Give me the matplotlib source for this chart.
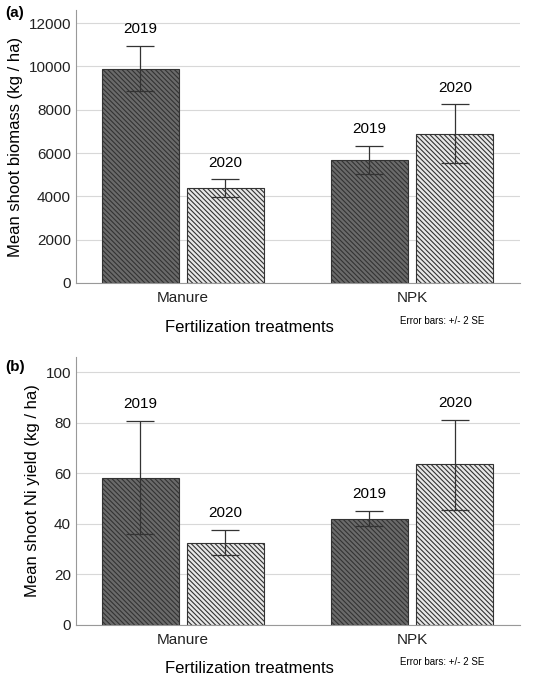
import numpy as np
import matplotlib.pyplot as plt

plt.rcParams['font.family'] = ['Liberation Sans', 'DejaVu Sans']
plt.rcParams['hatch.linewidth'] = 0.8

treatments = ['Manure', 'NPK']
years = ['2019', '2020']

biomass = {'2019': [9900, 5680], '2020': [4380, 6900]}
biomass_lo = {'2019': [8850, 5020], '2020': [3980, 5550]}
biomass_hi = {'2019': [10950, 6320], '2020': [4780, 8250]}

ni_yield = {'2019': [58, 42], '2020': [32.5, 63.5]}
ni_lo = {'2019': [36, 39], '2020': [27.5, 45.5]}
ni_hi = {'2019': [80.5, 45], '2020': [37.5, 81]}

fig = plt.figure(figsize=(5.49, 6.8), dpi=100)
ax_a = fig.add_axes([0.138, 0.584, 0.809, 0.401])
ax_b = fig.add_axes([0.138, 0.081, 0.809, 0.394])

styles = {'2019': dict(facecolor='#6a6a6a', hatch='\\\\\\\\\\\\\\'),
          '2020': dict(facecolor='#e8e8e8', hatch='\\\\\\\\\\\\\\')}


def draw(ax, vals, lo, hi, ymax, ticks, ylabel, offset):
    x = np.arange(len(treatments))
    w = 0.335
    for i, yr in enumerate(years):
        xs = x + (i - 0.5) * (w + 0.037)
        v = np.array(vals[yr])
        err = [v - np.array(lo[yr]), np.array(hi[yr]) - v]
        ax.bar(xs, v, w, edgecolor='#333333', linewidth=0.8, zorder=2,
               **styles[yr])
        ax.errorbar(xs, v, yerr=err, fmt='none', ecolor='#333333',
                    elinewidth=0.9, capsize=10, capthick=0.9, zorder=3)
        for xx, h in zip(xs, hi[yr]):
            ax.text(xx, h + offset, yr, ha='center', va='bottom', fontsize=11)
    ax.set_xlim(-0.467, 1.47)
    ax.set_ylim(0, ymax)
    ax.set_yticks(ticks)
    ax.set_xticks(x)
    ax.set_xticklabels(treatments, fontsize=11)
    ax.tick_params(axis='both', length=0, labelsize=11, colors='#222222')
    ax.tick_params(axis='x', pad=6)
    ax.yaxis.grid(True, color='#d8d8d8', linewidth=0.8, zorder=0)
    ax.set_axisbelow(True)
    for s in ['top', 'right']:
        ax.spines[s].set_visible(False)
    ax.spines['left'].set_color('#999999')
    ax.spines['bottom'].set_color('#999999')
    ax.set_ylabel(ylabel, fontsize=12)
    ax.set_xlabel('Fertilization treatments', fontsize=12, labelpad=10)
    ax.xaxis.set_label_coords(0.39, -0.135)
    ax.text(0.73, -0.14, 'Error bars: +/- 2 SE', transform=ax.transAxes,
            fontsize=7, va='center')


draw(ax_a, biomass, biomass_lo, biomass_hi, 12600,
     np.arange(0, 12001, 2000), 'Mean shoot biomass (kg / ha)', 450)
draw(ax_b, ni_yield, ni_lo, ni_hi, 106,
     np.arange(0, 101, 20), 'Mean shoot Ni yield (kg / ha)', 4)

fig.text(0.01, 0.975, '(a)', fontsize=11, fontweight='bold')
fig.text(0.01, 0.455, '(b)', fontsize=11, fontweight='bold')

fig.savefig('out.png', dpi=100)
